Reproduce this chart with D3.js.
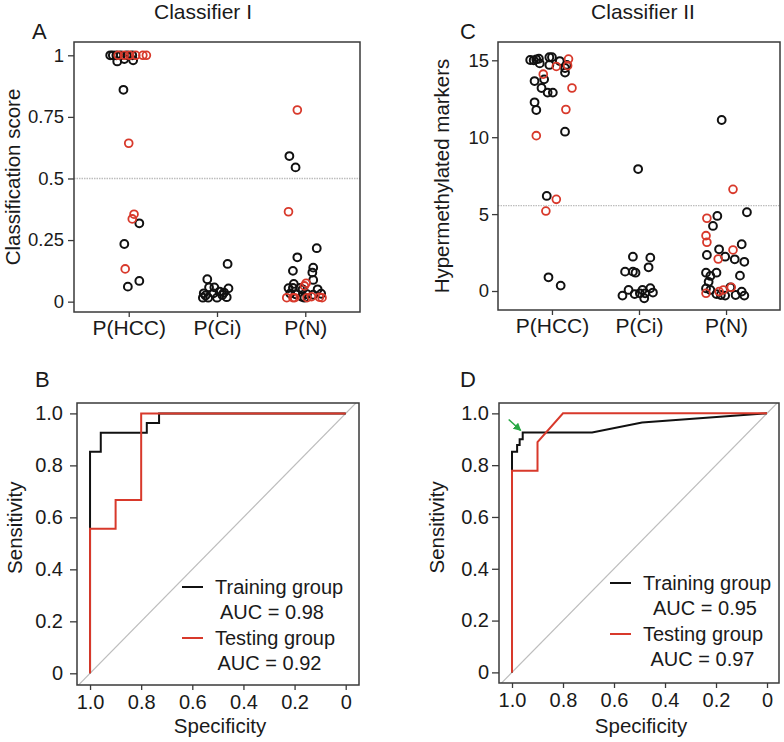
<!DOCTYPE html>
<html>
<head>
<meta charset="utf-8">
<script src="https://cdn.jsdelivr.net/npm/d3@7"></script>
<style>
  html, body { margin: 0; padding: 0; background: #fff; }
  svg { display: block; font-family: "Liberation Sans", Arial, sans-serif; }
</style>
</head>
<body>
<svg id="chart" width="784" height="742"></svg>
<script>
// ---------------- DATA ----------------
const groups = ["P(HCC)", "P(Ci)", "P(N)"];

// Classifier I scores: [group index (1..3), jitter (category units), value]
const scoreTrainA = [
  [1,-0.21,1.0],[1,-0.18,1.0],[1,-0.14,1.0],[1,-0.09,1.0],[1,-0.02,1.0],[1,0.04,1.0],
  [1,-0.13,0.975],[1,-0.05,0.985],[1,0.05,0.98],[1,-0.06,0.86],
  [1,0.12,0.318],[1,-0.05,0.234],[1,0.12,0.084],[1,-0.01,0.061],
  [2,-0.16,0.016],[2,-0.15,0.034],[2,-0.11,0.091],[2,-0.10,0.016],[2,-0.09,0.058],
  [2,-0.04,0.034],[2,-0.03,0.058],[2,0.0,0.016],[2,0.03,0.041],[2,0.06,0.027],
  [2,0.08,0.037],[2,0.11,0.018],[2,0.13,0.054],[2,0.12,0.153],[2,-0.13,0.025],
  [3,-0.18,0.591],[3,-0.11,0.545],[3,0.13,0.217],[3,-0.09,0.18],[3,0.09,0.138],
  [3,-0.14,0.125],[3,0.08,0.118],[3,0.09,0.088],[3,-0.13,0.072],
  [3,-0.19,0.055],[3,-0.14,0.056],[3,-0.06,0.056],[3,-0.03,0.05],[3,0.14,0.05],
  [3,-0.17,0.033],[3,-0.11,0.03],[3,0.02,0.03],[3,0.09,0.028],[3,0.18,0.032],
  [3,-0.04,0.02],[3,-0.01,0.016]
];
const scoreTestA = [
  [1,-0.12,1.0],[1,-0.05,1.0],[1,0.01,1.0],[1,0.08,1.0],[1,0.16,1.0],[1,0.20,1.0],
  [1,0.0,0.643],[1,0.06,0.355],[1,0.04,0.336],[1,-0.04,0.133],
  [3,-0.09,0.778],[3,-0.19,0.365],[3,0.01,0.075],[3,-0.01,0.064],
  [3,-0.21,0.016],[3,-0.14,0.016],[3,-0.12,0.016],[3,0.02,0.016],[3,0.07,0.02],
  [3,0.16,0.018],[3,0.19,0.016]
];
const thresholdA = 0.5;
const yTicksA = [0, 0.25, 0.5, 0.75, 1];
const yTickLabelsA = ["0", "0.25", "0.5", "0.75", "1"];

// Classifier II hypermethylated markers: [group, jitter, value]
const markerTrainC = [
  [1,-0.25,15.02],[1,-0.21,15.0],[1,-0.18,15.06],[1,-0.15,15.1],[1,-0.14,14.8],
  [1,-0.03,15.2],[1,0.0,15.2],[1,-0.03,14.7],[1,0.09,14.95],[1,0.15,14.5],
  [1,0.17,14.7],[1,0.15,14.2],[1,-0.2,13.65],[1,-0.09,13.76],[1,-0.12,13.2],
  [1,-0.05,12.9],[1,0.01,12.9],[1,-0.2,12.27],[1,-0.18,11.77],[1,0.15,10.36],
  [1,-0.06,6.18],[1,-0.04,0.89],[1,0.1,0.35],
  [2,-0.01,7.93],[2,-0.07,2.23],[2,0.13,2.17],[2,0.11,1.54],[2,-0.16,1.26],
  [2,-0.07,1.26],[2,-0.04,1.19],[2,-0.12,0.07],[2,-0.19,-0.3],[2,-0.05,-0.2],
  [2,0.01,-0.15],[2,0.04,0.07],[2,0.07,-0.15],[2,0.13,0.18],[2,0.16,-0.1],[2,0.06,-0.47],
  [3,-0.05,11.12],[3,-0.1,4.88],[3,-0.15,4.23],[3,0.24,5.12],[3,0.18,3.04],
  [3,-0.08,2.71],[3,-0.22,2.34],[3,-0.01,2.23],[3,0.1,2.06],[3,0.21,1.9],
  [3,-0.23,1.19],[3,-0.11,1.19],[3,-0.18,0.98],[3,0.16,1.0],[3,-0.2,0.6],
  [3,-0.23,0.17],[3,-0.18,0.07],[3,-0.11,-0.2],[3,-0.06,-0.26],[3,-0.01,-0.3],
  [3,0.05,0.24],[3,0.11,-0.26],[3,0.18,-0.04],[3,0.21,-0.3]
];
const markerTestC = [
  [1,-0.1,14.1],[1,0.05,14.6],[1,0.19,15.08],[1,0.18,14.65],[1,0.23,13.2],
  [1,0.16,11.8],[1,-0.18,10.1],[1,0.05,5.96],[1,-0.07,5.2],
  [3,0.08,6.61],[3,-0.22,4.73],[3,-0.23,3.6],[3,-0.22,3.17],[3,0.08,2.67],
  [3,-0.09,2.08],[3,-0.23,-0.15],[3,-0.08,-0.04],[3,-0.03,0.07],[3,0.06,0.24]
];
const thresholdC = 5.55;
const yTicksC = [0, 5, 10, 15];

// ROC curves: [specificity, sensitivity]
const rocTrainB = [[1,0],[1,0.852],[0.958,0.852],[0.958,0.926],[0.778,0.926],[0.778,0.963],[0.73,0.963],[0.73,1],[0,1]];
const rocTestB  = [[1,0],[1,0.556],[0.9,0.556],[0.9,0.667],[0.8,0.667],[0.8,1],[0,1]];
const rocTrainD = [[1,0],[1,0.852],[0.98,0.852],[0.98,0.878],[0.97,0.878],[0.97,0.9],[0.958,0.9],[0.958,0.926],[0.686,0.926],[0.49,0.965],[0,1]];
const rocTestD  = [[1,0],[1,0.778],[0.9,0.778],[0.9,0.889],[0.8,1],[0,1]];
const aucB = ["0.98", "0.92"];
const aucD = ["0.95", "0.97"];
const rocTicks = [1, 0.8, 0.6, 0.4, 0.2, 0];
const rocXTickLabels = ["1.0", "0.8", "0.6", "0.4", "0.2", "0"];
const rocYTickLabels = ["0", "0.2", "0.4", "0.6", "0.8", "1.0"];
const arrowTarget = [0.958, 0.926];

// ---------------- DRAWING ----------------
const svg = d3.select("#chart");
const BLACK = "#111", RED = "#d8392b", FRAME = "#3a3a3a", GREY = "#bdbdbd";

function frame(x0, y0, x1, y1) {
  svg.append("rect").attr("x", x0).attr("y", y0).attr("width", x1 - x0).attr("height", y1 - y0)
    .attr("fill", "none").attr("stroke", FRAME).attr("stroke-width", 1.5);
}
function styleAxis(g, size) {
  g.select(".domain").remove();
  g.selectAll(".tick line").attr("stroke", FRAME).attr("stroke-width", 1.3);
  g.selectAll(".tick text").attr("fill", "#1a1a1a").style("font-size", size + "px");
}
function text(x, y, s, size, anchor, rot) {
  const t = svg.append("text").attr("font-size", size).attr("fill", "#1a1a1a")
    .attr("text-anchor", anchor || "middle").text(s);
  if (rot) t.attr("transform", `translate(${x},${y}) rotate(-90)`);
  else t.attr("x", x).attr("y", y);
  return t;
}

function scatterPanel(opt) {
  const { x0, x1, y0, y1, yDom, train, test, thr, ticks, tickLabels, title, titleX, letter, letterX, ylab, ylabX, tickPad } = opt;
  const x = d3.scaleLinear().domain([0.38, 3.62]).range([x0, x1]);
  const y = d3.scaleLinear().domain(yDom).range([y1, y0]);
  svg.append("line").attr("x1", x0).attr("x2", x1).attr("y1", y(thr)).attr("y2", y(thr))
    .attr("stroke", GREY).attr("stroke-width", 1.3).attr("stroke-dasharray", "1.5,1");
  const pts = svg.append("g");
  pts.selectAll("circle.tr").data(train).join("circle").attr("class", "tr")
    .attr("cx", d => x(d[0] + d[1])).attr("cy", d => y(d[2])).attr("r", 3.9)
    .attr("fill", "none").attr("stroke", BLACK).attr("stroke-width", 2);
  pts.selectAll("circle.te").data(test).join("circle").attr("class", "te")
    .attr("cx", d => x(d[0] + d[1])).attr("cy", d => y(d[2])).attr("r", 3.9)
    .attr("fill", "none").attr("stroke", RED).attr("stroke-width", 1.8);
  frame(x0, y0, x1, y1);
  const ga = svg.append("g").attr("transform", `translate(${x0},0)`)
    .call(d3.axisLeft(y).tickValues(ticks).tickSize(6).tickPadding(tickPad)
      .tickFormat((d, i) => tickLabels[i]));
  styleAxis(ga, 18.5);
  const gb = svg.append("g").attr("transform", `translate(0,${y1})`)
    .call(d3.axisBottom(x).tickValues([1, 2, 3]).tickSize(5).tickPadding(3)
      .tickFormat((d, i) => groups[i]));
  styleAxis(gb, 21);
  text(titleX, 19, title, 21);
  text(letterX, 39, letter, 22, "start");
  text(ylabX, (y0 + y1) / 2, ylab, 20.5, "middle", true);
}

scatterPanel({ x0: 74, x1: 360, y0: 42, y1: 312, yDom: [-0.042, 1.054], train: scoreTrainA, test: scoreTestA,
  thr: thresholdA, ticks: yTicksA, tickLabels: yTickLabelsA, title: "Classifier I", titleX: 203,
  letter: "A", letterX: 32, ylab: "Classification score", ylabX: 20, tickPad: 4 });
scatterPanel({ x0: 498, x1: 780, y0: 42, y1: 310, yDom: [-1.235, 16.19], train: markerTrainC, test: markerTestC,
  thr: thresholdC, ticks: yTicksC, tickLabels: yTicksC.map(String), title: "Classifier II", titleX: 643,
  letter: "C", letterX: 460, ylab: "Hypermethylated markers", ylabX: 449, tickPad: 3 });

function rocPanel(opt) {
  const { x0, x1, y0, y1, xDom, yDom, train, test, auc, letter, letterX, legX, legY, aucX, yPad, xPad, arrow } = opt;
  const x = d3.scaleLinear().domain(xDom).range([x0, x1]);
  const y = d3.scaleLinear().domain(yDom).range([y1, y0]);
  const clipId = "clip" + letter;
  svg.append("clipPath").attr("id", clipId).append("rect")
    .attr("x", x0).attr("y", y0).attr("width", x1 - x0).attr("height", y1 - y0);
  svg.append("line").attr("clip-path", `url(#${clipId})`)
    .attr("x1", x(xDom[0])).attr("y1", y(1 - xDom[0])).attr("x2", x(xDom[1])).attr("y2", y(1 - xDom[1]))
    .attr("stroke", GREY).attr("stroke-width", 1.2);
  const line = d3.line().x(d => x(d[0])).y(d => y(d[1]));
  svg.append("path").datum(train).attr("d", line).attr("fill", "none").attr("stroke", BLACK).attr("stroke-width", 2);
  svg.append("path").datum(test).attr("d", line).attr("fill", "none").attr("stroke", RED).attr("stroke-width", 2);
  frame(x0, y0, x1, y1);
  const ga = svg.append("g").attr("transform", `translate(${x0},0)`)
    .call(d3.axisLeft(y).tickValues([0, 0.2, 0.4, 0.6, 0.8, 1]).tickSize(7).tickPadding(yPad)
      .tickFormat((d, i) => rocYTickLabels[i]));
  styleAxis(ga, 20);
  const gb = svg.append("g").attr("transform", `translate(0,${y1})`)
    .call(d3.axisBottom(x).tickValues(rocTicks).tickSize(5).tickPadding(xPad)
      .tickFormat((d, i) => rocXTickLabels[i]));
  styleAxis(gb, 20);
  text(letterX, 387, letter, 22, "start");
  text(x0 - 55, y(0.56), "Sensitivity", 20.5, "middle", true);
  text((x0 + x1) / 2 + 2, 733, "Specificity", 20.5);
  const rows = [["Training group", BLACK, auc[0]], ["Testing group", RED, auc[1]]];
  rows.forEach((r, i) => {
    const cy = legY + i * 51;
    svg.append("line").attr("x1", legX).attr("x2", legX + 21).attr("y1", cy).attr("y2", cy)
      .attr("stroke", r[1]).attr("stroke-width", 2);
    text(legX + 33, cy + 7, r[0], 20, "start");
    text(aucX - i * 2.5, cy + 32, "AUC = " + r[2], 20);
  });
  if (arrow) {
    const tx = x(arrow[0]) - 2, ty = y(arrow[1]) - 2;
    const defs = svg.append("defs");
    defs.append("marker").attr("id", "ah").attr("viewBox", "0 0 10 10").attr("refX", 9).attr("refY", 5)
      .attr("markerWidth", 5).attr("markerHeight", 5).attr("orient", "auto")
      .append("path").attr("d", "M0,0 L10,5 L0,10 Z").attr("fill", "#27a844");
    svg.append("line").attr("x1", tx - 12).attr("y1", ty - 11).attr("x2", tx).attr("y2", ty)
      .attr("stroke", "#27a844").attr("stroke-width", 1.6).attr("marker-end", "url(#ah)");
  }
}

rocPanel({ x0: 77, x1: 359, y0: 403, y1: 685, xDom: [1.051, -0.052], yDom: [-0.045, 1.04],
  train: rocTrainB, test: rocTestB, auc: aucB, letter: "B", letterX: 35,
  legX: 182, legY: 587, aucX: 272, yPad: 7, xPad: 5, arrow: null });
rocPanel({ x0: 499, x1: 779, y0: 403, y1: 683, xDom: [1.051, -0.047], yDom: [-0.041, 1.04],
  train: rocTrainD, test: rocTestD, auc: aucD, letter: "D", letterX: 460,
  legX: 610, legY: 583, aucX: 705, yPad: 3, xPad: 5, arrow: arrowTarget });
</script>
</body>
</html>
